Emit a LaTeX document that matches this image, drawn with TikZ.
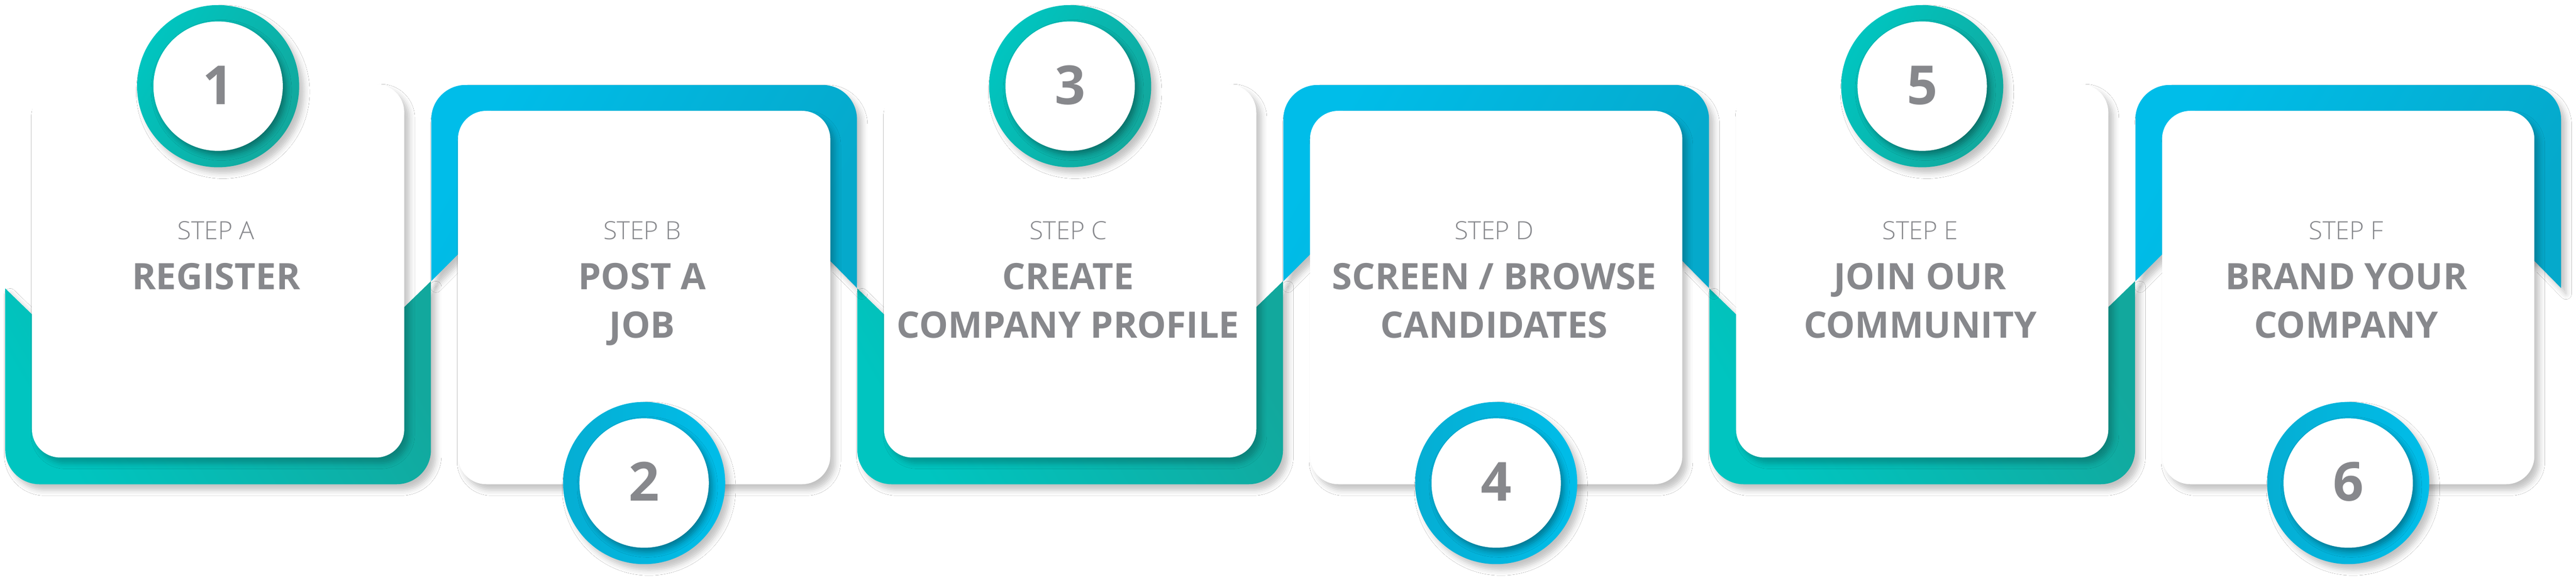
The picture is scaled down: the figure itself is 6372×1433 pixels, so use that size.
\documentclass[tikz,border=0pt]{standalone}
\usepackage{fontspec}
\setmainfont{Open Sans}
\newfontfamily\lightfont{Open Sans Light}
\usetikzlibrary{shadows.blur}
\definecolor{tealL}{HTML}{00C5C0}
\definecolor{tealD}{HTML}{12A89D}
\definecolor{blueL}{HTML}{00BDE9}
\definecolor{blueD}{HTML}{05A9CB}
\definecolor{blueR}{HTML}{05AED3}
\definecolor{txt}{HTML}{87888C}
\tikzset{
  softshadow/.style={blur shadow={shadow xshift=12pt, shadow yshift=-14pt, shadow blur radius=14pt, shadow opacity=24}},
  oddframe/.style={left color=tealL, right color=tealD, shading angle=120, softshadow},
  evenframe/.style={left color=blueL, right color=blueD, shading angle=60, softshadow},
  card/.style={rectangle, rounded corners=70pt, fill=white, draw=none, inner sep=0pt,
    minimum width=921pt, minimum height=923pt, softshadow},
  ringT/.style={circle, inner sep=0pt, minimum size=401pt, left color=tealL, right color=tealD, shading angle=60, softshadow},
  ringB/.style={circle, inner sep=0pt, minimum size=401pt, left color=blueR, right color=blueL, shading angle=90, softshadow},
  hole/.style={circle, inner sep=0pt, minimum size=320pt, fill=white,
    blur shadow={shadow xshift=8pt, shadow yshift=-10pt, shadow blur radius=14pt, shadow opacity=35}},
  numtext/.style={anchor=base, inner sep=0pt, text=txt, font=\bfseries\fontsize{133}{140}\selectfont},
  steplabel/.style={anchor=base, inner sep=0pt, text=txt, font=\lightfont\fontsize{62}{70}\selectfont},
  titletext/.style={anchor=base, inner sep=0pt, text=txt, font=\bfseries\fontsize{90}{110}\selectfont},
}
\begin{document}
\begin{tikzpicture}[x=1pt,y=1pt]
\useasboundingbox[fill=white] (0,0) rectangle (6372,1433);
% frames
\foreach \i in {0,2,4}{
  \pgfmathsetmacro\xa{79+1053.8*\i}
  \pgfmathsetmacro\L{\xa-66}
  \pgfmathsetmacro\R{\xa+987}
  \pgfmathsetmacro\xr{\xa+921}
  \pgfmathsetmacro\Lr{\L+85}
  \path[oddframe] (\L,720) -- (\xa,656) -- (\xr,674) -- (\R,738) -- (\R,321)
    arc[start angle=0,end angle=-90,radius=85] -- (\Lr,236)
    arc[start angle=270,end angle=180,radius=85] -- cycle;
}
\foreach \i in {1,3,5}{
  \pgfmathsetmacro\xa{79+1053.8*\i}
  \pgfmathsetmacro\L{\xa-66}
  \pgfmathsetmacro\R{\xa+987}
  \pgfmathsetmacro\xr{\xa+921}
  \pgfmathsetmacro\Lr{\L+85}
  \path[evenframe] (\L,738) -- (\xa,804) -- (\xr,788) -- (\R,721) -- (\R,1138)
    arc[start angle=0,end angle=90,radius=85] -- (\Lr,1223)
    arc[start angle=90,end angle=180,radius=85] -- cycle;
}
% cards
\node[card] (cardA) at (539.5,763.5) {};
\node[card] (cardB) at (1593.3,697.5) {};
\node[card] (cardC) at (2647.1,763.5) {};
\node[card] (cardD) at (3700.9,697.5) {};
\node[card] (cardE) at (4754.7,763.5) {};
\node[card] (cardF) at (5808.5,697.5) {};
% circles
\node[ringT] (ring1) at (539.5,1220) {};
\node[hole] (hole1) at (ring1) {};
\node[ringB] (ring2) at (1593.3,239) {};
\node[hole] (hole2) at (ring2) {};
\node[ringT] (ring3) at (2647.1,1220) {};
\node[hole] (hole3) at (ring3) {};
\node[ringB] (ring4) at (3700.9,239) {};
\node[hole] (hole4) at (ring4) {};
\node[ringT] (ring5) at (4754.7,1220) {};
\node[hole] (hole5) at (ring5) {};
\node[ringB] (ring6) at (5808.5,239) {};
\node[hole] (hole6) at (ring6) {};
% numbers
\node[numtext] (num1) at (539.5,1175) {1};
\node[numtext] (num2) at (1593.3,195) {2};
\node[numtext] (num3) at (2647.1,1175) {3};
\node[numtext] (num4) at (3700.9,195) {4};
\node[numtext] (num5) at (4754.7,1175) {5};
\node[numtext] (num6) at (5808.5,195) {6};
% texts
\node[steplabel] (stepA) at (534.5,841) {STEP A};
\node[titletext] (tA1) at (534.5,718) {REGISTER};
\node[steplabel] (stepB) at (1588.3,841) {STEP B};
\node[titletext] (tB1) at (1588.3,718) {POST A};
\node[titletext] (tB2) at (1588.3,597) {JOB};
\node[steplabel] (stepC) at (2642.1,841) {STEP C};
\node[titletext] (tC1) at (2642.1,718) {CREATE};
\node[titletext] (tC2) at (2642.1,597) {COMPANY PROFILE};
\node[steplabel] (stepD) at (3695.9,841) {STEP D};
\node[titletext] (tD1) at (3695.9,718) {SCREEN / BROWSE};
\node[titletext] (tD2) at (3695.9,597) {CANDIDATES};
\node[steplabel] (stepE) at (4749.7,841) {STEP E};
\node[titletext] (tE1) at (4749.7,718) {JOIN OUR};
\node[titletext] (tE2) at (4749.7,597) {COMMUNITY};
\node[steplabel] (stepF) at (5803.5,841) {STEP F};
\node[titletext] (tF1) at (5803.5,718) {BRAND YOUR};
\node[titletext] (tF2) at (5803.5,597) {COMPANY};
\end{tikzpicture}
\end{document}
